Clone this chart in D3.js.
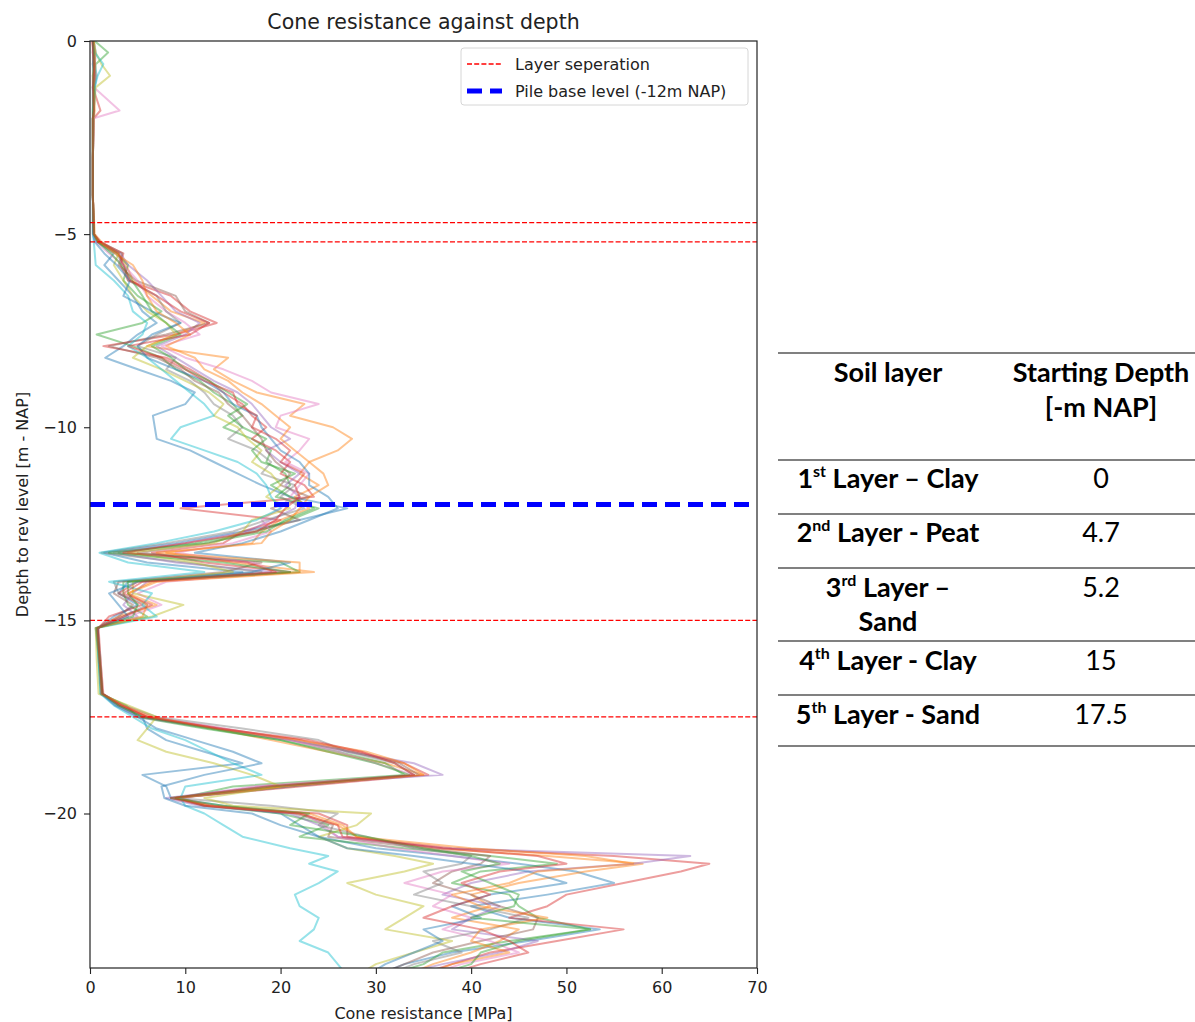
<!DOCTYPE html>
<html>
<head>
<meta charset="utf-8">
<script src="https://cdn.jsdelivr.net/npm/d3@7"></script>
<style>
  body { margin: 0; background: #fff; }
  svg text { font-family: "DejaVu Sans", sans-serif; fill: #222; }
  .tbl text { font-family: Lato, "Open Sans", sans-serif; fill: #000; }
</style>
</head>
<body>
<svg id="chart" width="1195" height="1022"></svg>
<script>
// depth of each reading [m below NAP]
var depths = [0, 0.3, 0.6, 0.9, 1.2, 1.8, 2.0, 3.0, 4.0, 5.0,
  5.2, 5.5, 5.8, 6.2, 6.6, 7.0, 7.3, 7.6, 7.9, 8.2,
  8.5, 8.8, 9.1, 9.4, 9.7, 10.0, 10.3, 10.6, 10.9, 11.2,
  11.5, 11.8, 12.1, 12.4, 12.7, 13.0, 13.25, 13.5, 13.75, 14.0,
  14.3, 14.6, 14.9, 15.2, 16.0, 16.9, 17.2, 17.5, 17.8, 18.1,
  18.4, 18.7, 19.0, 19.3, 19.6, 19.8, 20.0, 20.3, 20.6, 20.9,
  21.1, 21.3, 21.5, 21.8, 22.1, 22.4, 22.7, 23.0, 23.3, 23.6,
  23.9, 24.2]

// cone resistance per CPT [MPa], one value per depth
var cpt01 = [0.4, 0.6, 0.5, 0.7, 0.5, 0.4, 0.4, 0.3, 0.3, 0.4,
  0.8, 2.5, 1.5, 3.0, 4.5, 5.5, 7.0, 5.0, 3.5, 1.6,
  5.0, 8.5, 11.0, 10.0, 6.6, 6.8, 7.0, 10.5, 13.0, 15.5,
  18.0, 21.0, 27.0, 22.0, 16.0, 9.0, 1.5, 6.0, 16.0, 4.0,
  3.0, 5.0, 2.5, 0.8, 0.9, 1.2, 3.0, 5.5, 6.0, 8.0,
  12.0, 16.0, 5.5, 8.0, 8.5, 14.0, 20.0, 22.0, 24.0, 30.0,
  38.0, 45.0, 51.0, 55.0, 48.0, 40.0, 44.0, 53.5, 46.0, 38.0,
  33.0, 30.0]
var cpt02 = [0.3, 0.5, 0.4, 0.6, 0.4, 0.5, 0.4, 0.3, 0.3, 0.5,
  1.2, 3.0, 3.8, 4.5, 6.5, 8.5, 12.0, 9.0, 6.0, 14.5,
  13.0, 15.0, 17.5, 22.5, 21.0, 25.5, 27.5, 26.0, 23.0, 22.0,
  24.0, 21.5, 23.0, 20.0, 18.0, 17.0, 8.0, 15.0, 23.5, 7.0,
  4.0, 7.0, 3.0, 0.7, 1.0, 1.3, 3.5, 6.0, 13.0, 19.0,
  25.0, 31.0, 35.0, 20.0, 9.0, 13.0, 22.0, 26.0, 28.0, 36.0,
  48.0, 58.0, 52.0, 45.0, 40.0, 42.0, 38.0, 45.0, 43.0, 40.0,
  36.0, 33.0]
var cpt03 = [0.5, 1.9, 0.6, 0.5, 0.4, 0.4, 0.3, 0.3, 0.3, 0.4,
  0.9, 2.8, 4.0, 3.5, 5.0, 7.5, 5.5, 0.7, 4.5, 7.5,
  9.0, 11.5, 13.0, 15.0, 16.0, 14.0, 17.0, 19.0, 18.5, 20.5,
  21.0, 19.5, 24.0, 21.0, 17.5, 11.0, 3.0, 20.0, 22.0, 3.5,
  3.5, 4.0, 6.0, 0.6, 0.9, 1.1, 3.8, 5.0, 12.0, 20.0,
  26.0, 31.0, 33.0, 15.0, 9.5, 12.0, 20.0, 25.0, 22.0, 33.0,
  42.0, 49.0, 41.0, 38.0, 44.0, 45.0, 47.0, 52.5, 44.0, 37.0,
  35.0, 31.0]
var cpt04 = [0.2, 0.4, 0.5, 0.3, 0.3, 1.1, 0.4, 0.3, 0.3, 0.4,
  1.0, 3.5, 3.2, 4.0, 8.5, 10.5, 13.3, 9.0, 1.4, 8.0,
  10.5, 12.5, 14.0, 16.0, 17.0, 18.5, 17.0, 19.5, 21.0, 20.0,
  22.5, 23.5, 9.5, 20.0, 16.0, 14.0, 6.5, 12.0, 21.0, 5.0,
  3.0, 5.5, 2.0, 0.9, 1.1, 1.4, 3.2, 6.0, 14.0, 22.0,
  28.0, 33.0, 35.5, 22.0, 9.0, 12.5, 24.0, 27.0, 27.0, 38.0,
  55.0, 65.0, 62.0, 56.0, 50.0, 48.0, 44.0, 56.0, 49.0, 42.0,
  38.0, 34.0]
var cpt05 = [0.4, 0.3, 0.5, 0.4, 0.5, 0.4, 0.4, 0.3, 0.3, 0.4,
  0.7, 3.2, 4.0, 6.0, 7.5, 9.0, 11.5, 10.0, 7.0, 9.0,
  11.0, 13.0, 15.5, 17.0, 18.0, 19.0, 21.0, 18.5, 20.0, 22.0,
  20.5, 22.0, 21.5, 19.0, 16.5, 10.0, 2.5, 9.0, 19.0, 6.0,
  4.5, 3.5, 5.0, 0.6, 1.0, 1.2, 2.8, 5.0, 13.0, 21.0,
  27.0, 34.0, 37.0, 18.0, 8.0, 11.5, 21.0, 24.0, 26.0, 37.0,
  63.0, 57.0, 46.0, 40.0, 37.0, 43.0, 40.0, 38.0, 47.0, 43.0,
  37.0, 32.0]
var cpt06 = [0.3, 0.4, 0.3, 0.5, 0.4, 0.4, 0.3, 0.3, 0.3, 0.4,
  1.1, 3.4, 3.0, 4.8, 9.0, 10.0, 12.5, 8.0, 2.0, 7.0,
  9.5, 11.0, 13.5, 14.5, 16.0, 17.0, 18.0, 18.5, 19.5, 21.0,
  20.0, 23.0, 19.0, 22.0, 17.0, 12.5, 5.0, 18.0, 14.0, 3.0,
  2.5, 4.5, 3.0, 0.8, 1.1, 1.3, 3.0, 5.5, 13.5, 21.0,
  27.5, 32.5, 34.5, 21.0, 9.0, 12.0, 21.5, 25.5, 25.0, 35.0,
  42.0, 41.0, 38.0, 36.0, 40.0, 43.0, 47.0, 46.5, 41.0, 36.0,
  33.0, 30.0]
var cpt07 = [0.3, 0.5, 0.4, 0.5, 0.4, 3.1, 0.4, 0.3, 0.3, 0.4,
  0.6, 2.0, 3.5, 5.0, 6.0, 8.0, 10.0, 11.5, 7.5, 10.0,
  14.0, 17.0, 19.0, 24.0, 20.0, 19.5, 23.0, 22.0, 20.5, 23.0,
  22.0, 21.0, 20.0, 18.0, 19.0, 15.0, 9.0, 17.0, 20.0, 8.0,
  5.0, 7.5, 4.0, 0.7, 1.0, 1.2, 3.5, 6.5, 14.0, 21.0,
  26.0, 30.0, 34.0, 17.0, 9.5, 13.0, 22.5, 24.5, 26.0, 32.0,
  38.0, 44.0, 37.0, 33.0, 38.0, 36.0, 40.0, 37.0, 42.0, 45.0,
  39.0, 35.0]
var cpt08 = [0.4, 0.3, 0.4, 0.5, 0.3, 0.4, 0.3, 0.3, 0.3, 0.4,
  0.8, 2.7, 3.6, 4.0, 7.0, 8.0, 9.5, 7.0, 5.0, 9.0,
  8.0, 10.5, 12.0, 13.0, 15.0, 16.0, 14.5, 17.5, 19.0, 18.0,
  21.5, 20.0, 22.5, 18.5, 15.0, 8.0, 1.2, 10.0, 18.0, 2.5,
  3.0, 6.0, 3.5, 0.8, 1.0, 1.3, 3.6, 7.0, 16.0, 24.0,
  27.0, 32.0, 34.0, 21.0, 9.0, 19.0, 26.0, 24.0, 29.0, 34.0,
  40.0, 39.0, 35.0, 37.0, 34.0, 40.0, 46.0, 42.0, 36.0, 39.0,
  34.0, 31.0]
var cpt09 = [0.4, 0.6, 1.2, 2.1, 0.6, 0.4, 0.4, 0.3, 0.3, 0.4,
  0.9, 3.0, 2.5, 3.5, 4.5, 6.0, 8.0, 9.0, 6.0, 4.5,
  7.5, 10.0, 12.5, 14.0, 13.0, 15.5, 16.5, 18.0, 17.0, 19.0,
  20.0, 18.5, 21.0, 17.0, 16.0, 13.0, 4.0, 11.0, 15.0, 4.5,
  4.5, 9.8, 6.5, 0.6, 0.7, 0.9, 4.0, 7.0, 6.0, 5.0,
  8.0, 13.0, 17.0, 20.0, 12.0, 15.0, 29.5, 28.0, 24.0, 27.0,
  32.0, 36.0, 33.0, 27.0, 30.0, 35.0, 33.0, 31.0, 38.0, 34.0,
  30.0, 28.0]
var cpt10 = [0.3, 0.5, 1.4, 0.8, 0.5, 0.4, 0.3, 0.3, 0.3, 0.3,
  0.4, 0.5, 0.6, 2.5, 4.0, 4.5, 6.0, 5.5, 4.0, 6.0,
  7.5, 9.0, 10.5, 12.0, 13.0, 9.5, 8.5, 12.0, 15.5, 17.5,
  18.5, 19.0, 20.0, 17.5, 13.0, 7.0, 1.0, 4.0, 12.0, 2.0,
  6.5, 5.5, 7.0, 0.7, 0.9, 1.1, 2.5, 4.5, 6.5, 10.0,
  12.5, 15.0, 18.0, 10.0, 9.5, 10.0, 12.0, 14.0, 16.0, 21.0,
  25.0, 23.0, 26.0, 24.0, 21.5, 22.0, 24.0, 23.5, 22.0, 25.0,
  26.0, 27.0]
var cpt11 = [0.3, 0.4, 0.3, 0.4, 0.3, 0.3, 0.3, 0.3, 0.3, 0.3,
  0.5, 1.5, 2.8, 4.2, 3.5, 6.5, 9.5, 6.5, 5.0, 6.0,
  9.0, 12.0, 14.0, 15.0, 17.5, 18.0, 19.0, 20.0, 22.0, 23.0,
  23.0, 25.0, 26.0, 23.0, 20.0, 16.0, 11.0, 21.0, 17.0, 5.0,
  2.0, 3.0, 4.0, 0.8, 1.0, 1.2, 2.6, 5.0, 7.0, 11.0,
  15.0, 18.0, 12.0, 7.5, 7.8, 10.0, 17.0, 20.0, 24.0, 27.0,
  34.0, 40.0, 46.0, 50.0, 42.0, 38.0, 41.0, 35.0, 37.0, 34.0,
  31.0, 29.0]
var cpt12 = [0.4, 0.5, 0.5, 0.4, 0.4, 0.4, 0.3, 0.3, 0.3, 0.4,
  0.9, 2.6, 4.5, 5.5, 6.0, 7.0, 9.0, 10.5, 8.0, 11.0,
  12.0, 14.5, 16.0, 18.0, 19.5, 21.0, 20.0, 21.5, 23.0, 24.5,
  25.0, 23.0, 22.0, 21.0, 19.0, 18.0, 7.0, 22.0, 22.0, 6.5,
  4.0, 6.0, 5.5, 0.7, 1.0, 1.2, 3.4, 6.5, 13.0, 22.0,
  29.0, 33.0, 35.0, 20.0, 9.0, 12.5, 23.0, 26.5, 28.0, 40.0,
  52.0, 57.0, 47.0, 44.0, 38.0, 41.0, 48.0, 41.0, 40.0, 44.0,
  38.0, 35.0]
var cpt13 = [0.3, 0.4, 0.4, 0.3, 0.4, 0.3, 0.3, 0.3, 0.3, 0.4,
  0.8, 2.2, 3.3, 4.4, 5.5, 6.5, 8.0, 9.5, 6.5, 8.5,
  10.0, 12.5, 14.5, 16.5, 14.5, 16.0, 18.5, 17.0, 18.0, 21.5,
  19.0, 21.0, 23.5, 20.5, 18.5, 12.0, 2.0, 14.0, 21.0, 4.0,
  4.0, 5.0, 4.5, 0.7, 1.0, 1.3, 3.0, 5.5, 12.5, 20.0,
  25.0, 30.0, 33.5, 19.0, 8.5, 14.0, 23.0, 21.0, 29.0, 35.0,
  40.0, 43.0, 39.0, 42.0, 45.0, 44.5, 40.0, 52.5, 45.0, 41.0,
  40.0, 36.0]
var cpt14 = [0.3, 0.3, 0.4, 0.4, 0.3, 0.4, 0.3, 0.3, 0.3, 0.4,
  1.0, 3.0, 3.5, 4.2, 7.0, 9.5, 12.5, 10.5, 4.0, 7.5,
  10.0, 12.0, 15.0, 15.5, 17.5, 17.0, 19.5, 21.0, 20.0, 22.5,
  21.5, 22.0, 20.5, 19.5, 17.5, 10.0, 3.5, 16.5, 19.5, 5.5,
  3.5, 6.5, 3.5, 0.8, 1.0, 1.3, 3.3, 6.0, 13.5, 23.0,
  28.5, 32.0, 34.0, 18.5, 8.5, 12.0, 22.0, 26.0, 26.5, 37.0,
  47.0, 50.0, 43.0, 39.0, 42.0, 38.0, 35.0, 41.0, 44.0, 46.0,
  41.0, 37.0]

var traces = [cpt01, cpt02, cpt03, cpt04, cpt05, cpt06, cpt07,
              cpt08, cpt09, cpt10, cpt11, cpt12, cpt13, cpt14]

var layerLevels = [-4.7, -5.2, -15, -17.5]
var pileBaseLevel = -12
var xTicks = [0, 10, 20, 30, 40, 50, 60, 70]
var yTicks = [0, -5, -10, -15, -20]

// table on the right
var layerNumbers = ["1", "2", "3", "4", "5"]
var layerSuffixes = ["st", "nd", "rd", "th", "th"]
var layerNames = [["Layer \u2013 Clay"], ["Layer - Peat"], ["Layer \u2013", "Sand"],
                  ["Layer - Clay"], ["Layer - Sand"]]
var startDepths = ["0", "4.7", "5.2", "15", "17.5"]


// note: "top" is taken by window.top, so the plot edges get their own names
var svg = d3.select("#chart"),
    plotL = 90, plotR = 757, plotT = 41, plotB = 968,
    x = d3.scaleLinear().domain([0, 70]).range([plotL, plotR]),
    y = d3.scaleLinear().domain([-24, 0]).range([plotB, plotT]),
    colors = d3.schemeCategory10

svg.append("defs").append("clipPath")
  .attr("id", "plot-clip")
  .append("rect")
    .attr("x", plotL).attr("y", plotT)
    .attr("width", plotR - plotL).attr("height", plotB - plotT)

var plot = svg.append("g").attr("clip-path", "url(#plot-clip)")

var line = d3.line()
  .x((q) => x(q))
  .y((q, i) => y(-depths[i]))

plot.append("g")
  .attr("class", "traces")
  .selectAll("path")
    .data(traces)
    .enter().append("path")
      .attr("d", line)
      .attr("fill", "none")
      .attr("stroke", (d, i) => colors[i % 10])
      .attr("stroke-width", 2)
      .attr("stroke-opacity", 0.45)
      .attr("stroke-linejoin", "round")

plot.append("g")
  .selectAll("line")
    .data(layerLevels)
    .enter().append("line")
      .attr("x1", plotL).attr("x2", plotR)
      .attr("y1", (d) => y(d)).attr("y2", (d) => y(d))
      .attr("stroke", "#ff0000")
      .attr("stroke-width", 1.3)
      .attr("stroke-dasharray", "5,2.2")

plot.append("line")
  .attr("x1", plotL).attr("x2", plotR)
  .attr("y1", y(pileBaseLevel)).attr("y2", y(pileBaseLevel))
  .attr("stroke", "#0000ff")
  .attr("stroke-width", 5)
  .attr("stroke-dasharray", "15,8")

// axes
svg.append("g")
  .attr("transform", `translate(0,${plotB})`)
  .call(d3.axisBottom(x).tickValues(xTicks).tickSize(6).tickPadding(8))
svg.append("g")
  .attr("transform", `translate(${plotL},0)`)
  .call(d3.axisLeft(y).tickValues(yTicks).tickSize(6).tickPadding(7))

svg.selectAll(".domain").remove()
svg.selectAll(".tick line").attr("stroke", "#222").attr("stroke-width", 1.1)
svg.selectAll(".tick text").attr("font-size", 16).attr("fill", "#222")
  .attr("font-family", "DejaVu Sans")

svg.append("rect")
  .attr("x", plotL).attr("y", plotT)
  .attr("width", plotR - plotL).attr("height", plotB - plotT)
  .attr("fill", "none").attr("stroke", "#222").attr("stroke-width", 1.2)

svg.append("text")
  .attr("x", (plotL + plotR) / 2).attr("y", 29)
  .attr("text-anchor", "middle").attr("font-size", 20.5)
  .text("Cone resistance against depth")

svg.append("text")
  .attr("x", (plotL + plotR) / 2).attr("y", 1019)
  .attr("text-anchor", "middle").attr("font-size", 16)
  .text("Cone resistance [MPa]")

svg.append("text")
  .attr("transform", `translate(28,${(plotT + plotB) / 2}) rotate(-90)`)
  .attr("text-anchor", "middle").attr("font-size", 16)
  .text("Depth to rev level [m - NAP]")

// legend
var legend = svg.append("g")
legend.append("rect")
  .attr("x", 461).attr("y", 48).attr("width", 287).attr("height", 57)
  .attr("rx", 3).attr("fill", "#fff").attr("fill-opacity", 0.85)
  .attr("stroke", "#d6d6d6")
legend.append("line")
  .attr("x1", 467).attr("x2", 502).attr("y1", 64).attr("y2", 64)
  .attr("stroke", "#ff0000").attr("stroke-width", 1.3).attr("stroke-dasharray", "5,2.2")
legend.append("line")
  .attr("x1", 467).attr("x2", 502).attr("y1", 91).attr("y2", 91)
  .attr("stroke", "#0000ff").attr("stroke-width", 5).attr("stroke-dasharray", "15,8")
legend.append("text").attr("x", 515).attr("y", 70).attr("font-size", 16)
  .text("Layer seperation")
legend.append("text").attr("x", 515).attr("y", 97).attr("font-size", 16)
  .text("Pile base level (-12m NAP)")

// table of soil layers
var tbl = svg.append("g").attr("class", "tbl"),
    colA = 888, colB = 1101,
    rules = [353, 460, 514, 568, 641, 695, 746],
    rowY = [[488], [542], [597, 631], [670], [724]]

tbl.selectAll("line")
  .data(rules)
  .enter().append("line")
    .attr("x1", 778).attr("x2", 1195)
    .attr("y1", (d) => d).attr("y2", (d) => d)
    .attr("stroke", "#808080").attr("stroke-width", 2)

tbl.append("text").attr("x", colA).attr("y", 382).attr("text-anchor", "middle")
  .attr("font-size", 27).attr("font-weight", "bold").text("Soil layer")
tbl.append("text").attr("x", colB).attr("y", 382).attr("text-anchor", "middle")
  .attr("font-size", 27).attr("font-weight", "bold").text("Starting Depth")
tbl.append("text").attr("x", colB).attr("y", 417).attr("text-anchor", "middle")
  .attr("font-size", 27).attr("font-weight", "bold").text("[-m NAP]")

layerNumbers.forEach((num, i) => {
  var lines = layerNames[i]
  lines.forEach((txt, k) => {
    var t = tbl.append("text")
      .attr("x", colA).attr("y", rowY[i][k])
      .attr("text-anchor", "middle")
      .attr("font-size", 27).attr("font-weight", "bold")
    if (k === 0) {
      t.append("tspan").text(num)
      t.append("tspan").attr("dy", -11).attr("font-size", 16).text(layerSuffixes[i])
      t.append("tspan").attr("dy", 11).text(" " + txt)
    } else {
      t.text(txt)
    }
  })
  tbl.append("text")
    .attr("x", colB).attr("y", rowY[i][0])
    .attr("text-anchor", "middle").attr("font-size", 27)
    .text(startDepths[i])
})
</script>
</body>
</html>
